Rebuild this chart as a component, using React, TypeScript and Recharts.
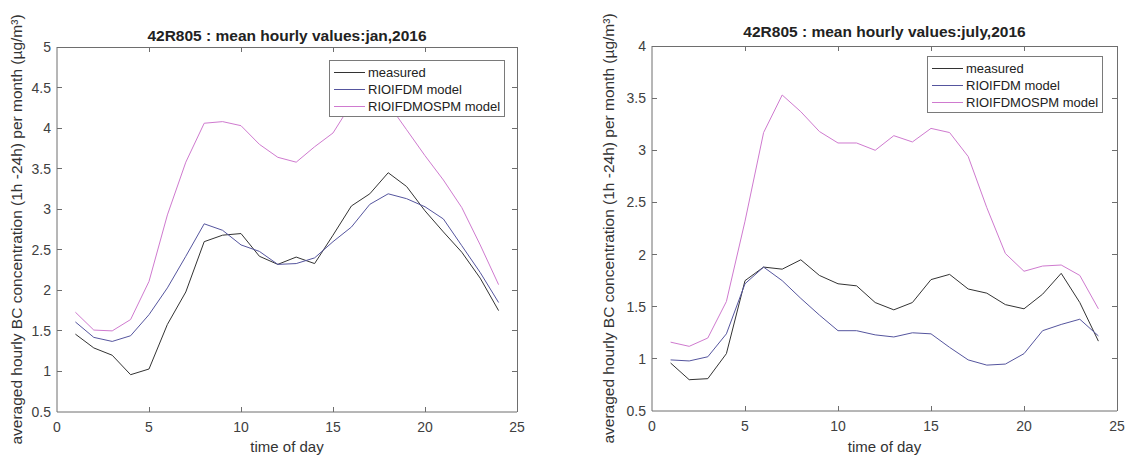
import { LineChart, Line, XAxis, YAxis, Legend, Label } from 'recharts';

// hour of day
const hours = [1, 2, 3, 4, 5, 6, 7, 8, 9, 10, 11, 12, 13, 14, 15, 16, 17, 18, 19, 20, 21, 22, 23, 24];

// january 2016
const janMeasured = [1.46, 1.29, 1.2, 0.96, 1.03, 1.58, 1.98, 2.6, 2.68, 2.7, 2.42, 2.32, 2.41, 2.33, 2.68, 3.04, 3.19, 3.45, 3.28, 2.98, 2.72, 2.47, 2.15, 1.75];
const janRioifdm = [1.61, 1.42, 1.37, 1.44, 1.7, 2.03, 2.42, 2.82, 2.74, 2.56, 2.48, 2.32, 2.33, 2.4, 2.6, 2.78, 3.06, 3.19, 3.13, 3.03, 2.88, 2.55, 2.22, 1.85];
const janOspm = [1.73, 1.51, 1.5, 1.64, 2.11, 2.93, 3.58, 4.06, 4.08, 4.03, 3.8, 3.64, 3.58, 3.77, 3.94, 4.3, 4.45, 4.3, 3.98, 3.66, 3.36, 3.02, 2.56, 2.07];

// july 2016
const julMeasured = [0.96, 0.8, 0.81, 1.05, 1.75, 1.88, 1.86, 1.95, 1.8, 1.72, 1.7, 1.54, 1.47, 1.54, 1.76, 1.81, 1.67, 1.63, 1.52, 1.48, 1.62, 1.82, 1.54, 1.17];
const julRioifdm = [0.99, 0.98, 1.02, 1.24, 1.72, 1.88, 1.75, 1.58, 1.42, 1.27, 1.27, 1.23, 1.21, 1.25, 1.24, 1.11, 0.99, 0.94, 0.95, 1.05, 1.27, 1.33, 1.38, 1.22];
const julOspm = [1.16, 1.12, 1.2, 1.55, 2.32, 3.17, 3.53, 3.37, 3.18, 3.07, 3.07, 3.0, 3.14, 3.08, 3.21, 3.17, 2.94, 2.45, 2.01, 1.84, 1.89, 1.9, 1.8, 1.48];

const xTicks = [0, 5, 10, 15, 20, 25];
const janYTicks = [0.5, 1, 1.5, 2, 2.5, 3, 3.5, 4, 4.5, 5];
const julYTicks = [0.5, 1, 1.5, 2, 2.5, 3, 3.5, 4];

const seriesNames = ['measured', 'RIOIFDM model', 'RIOIFDMOSPM model'];

const COLORS = {
  measured: '#333333',
  rioifdm: '#55559e',
  ospm: '#cf7acf',
};

const AXIS = '#6e6e6e';
const FONT = '"Liberation Sans", Arial, Helvetica, sans-serif';
const Y_LABEL = 'averaged hourly BC concentration (1h -24h) per month (µg/m³)';
const TICK_LEN = 5;

const janData = hours.map((h, i) => ({
  hour: h,
  measured: janMeasured[i],
  rioifdm: janRioifdm[i],
  ospm: janOspm[i],
}));

const julData = hours.map((h, i) => ({
  hour: h,
  measured: julMeasured[i],
  rioifdm: julRioifdm[i],
  ospm: julOspm[i],
}));

/* tick labels only, the marks are drawn by the box overlay */
function BottomTick(props: any) {
  const { x, y, payload } = props;
  return (
    <text x={x} y={y + 20} textAnchor="middle" fontSize={14} fill="#404040" fontFamily={FONT}>
      {payload.value}
    </text>
  );
}

function LeftTick(props: any) {
  const { x, y, payload } = props;
  return (
    <text x={x - 6} y={y + 5} textAnchor="end" fontSize={14} fill="#404040" fontFamily={FONT}>
      {payload.value}
    </text>
  );
}

function LegendBox({ payload, width, height }: any) {
  // keep the plotting order of the original figure
  const items = [...(payload || [])].sort(
    (a: any, b: any) => seriesNames.indexOf(a.value) - seriesNames.indexOf(b.value)
  );
  return (
    <div
      style={{
        width,
        height,
        boxSizing: 'border-box',
        border: '1px solid #7a7a7a',
        background: '#fff',
        paddingTop: 3,
        fontFamily: FONT,
      }}
    >
      {items.map((item: any, i: number) => (
        <div key={i} style={{ display: 'flex', alignItems: 'center', height: 17 }}>
          <span
            style={{
              display: 'inline-block',
              width: 31,
              borderTop: `1px solid ${item.color}`,
              marginLeft: 4,
              marginRight: 3,
            }}
          />
          <span style={{ fontSize: 13, color: '#222', whiteSpace: 'nowrap' }}>{item.value}</span>
        </div>
      ))}
    </div>
  );
}

/* MATLAB style axes box: top / right edges and inward ticks on all sides */
function AxesBox({ left, right, top, bottom, yMin, yMax, yTicks }: any) {
  const w = right - left;
  const h = bottom - top;
  const marks: any[] = [];
  xTicks.slice(1, -1).forEach((t) => {
    const x = left + (t / 25) * w - 0.5;
    marks.push({ left: x, top: bottom - TICK_LEN, width: 1, height: TICK_LEN });
    marks.push({ left: x, top: top, width: 1, height: TICK_LEN });
  });
  yTicks.slice(1, -1).forEach((v: number) => {
    const y = bottom - ((v - yMin) / (yMax - yMin)) * h - 0.5;
    marks.push({ left: left, top: y, width: TICK_LEN, height: 1 });
    marks.push({ left: right - TICK_LEN, top: y, width: TICK_LEN, height: 1 });
  });
  return (
    <div style={{ position: 'absolute', left: 0, top: 0, pointerEvents: 'none' }}>
      <div
        style={{
          position: 'absolute',
          left,
          top: top - 0.5,
          width: w + 0.5,
          height: h + 0.5,
          boxSizing: 'border-box',
          borderTop: `1px solid ${AXIS}`,
          borderRight: `1px solid ${AXIS}`,
        }}
      />
      {marks.map((m, i) => (
        <div key={i} style={{ position: 'absolute', background: AXIS, ...m }} />
      ))}
    </div>
  );
}

interface PanelProps {
  data: any[];
  title: string;
  yMin: number;
  yMax: number;
  yTicks: number[];
  width: number;
  yAxisWidth: number;
  marginTop: number;
  marginRight: number;
  xAxisHeight: number;
  titleY: number;
  yLabelX: number;
  legendLeft: number;
  legendTop: number;
}

function Panel(p: PanelProps) {
  const plotLeft = p.yAxisWidth;
  const plotRight = p.width - p.marginRight;
  const plotTop = p.marginTop;
  const plotBottom = 458 - p.xAxisHeight;
  const cx = (plotLeft + plotRight) / 2;
  const cy = (plotTop + plotBottom) / 2;

  return (
    <>
      <LineChart
        width={p.width}
        height={458}
        data={p.data}
        margin={{ top: p.marginTop, right: p.marginRight, bottom: 0, left: 0 }}
      >
        <XAxis
          dataKey="hour"
          type="number"
          domain={[0, 25]}
          ticks={xTicks}
          height={p.xAxisHeight}
          tickSize={0}
          tickMargin={0}
          tickLine={false}
          axisLine={{ stroke: AXIS }}
          tick={<BottomTick />}
          interval={0}
        >
          <Label
            content={() => (
              <text x={cx} y={452} textAnchor="middle" fontSize={15} fill="#333" fontFamily={FONT}>
                time of day
              </text>
            )}
          />
        </XAxis>
        <YAxis
          type="number"
          domain={[p.yMin, p.yMax]}
          ticks={p.yTicks}
          width={p.yAxisWidth}
          tickSize={0}
          tickMargin={0}
          tickLine={false}
          axisLine={{ stroke: AXIS }}
          tick={<LeftTick />}
          interval={0}
          allowDataOverflow
        >
          <Label
            content={() => (
              <g>
                <text
                  x={p.yLabelX}
                  y={cy}
                  textAnchor="middle"
                  fontSize={15.5}
                  fill="#333"
                  fontFamily={FONT}
                  transform={`rotate(-90, ${p.yLabelX}, ${cy})`}
                >
                  {Y_LABEL}
                </text>
                <text
                  x={cx}
                  y={p.titleY}
                  textAnchor="middle"
                  fontSize={15.5}
                  fontWeight="bold"
                  fill="#222"
                  fontFamily={FONT}
                >
                  {p.title}
                </text>
              </g>
            )}
          />
        </YAxis>
        <Legend
          layout="horizontal"
          verticalAlign="middle"
          align="center"
          wrapperStyle={{ left: p.legendLeft, top: p.legendTop, width: 176, height: 57 }}
          content={(props: any) => <LegendBox payload={props.payload} width={176} height={57} />}
        />
        <Line
          type="linear"
          dataKey="measured"
          name={seriesNames[0]}
          stroke={COLORS.measured}
          strokeWidth={1}
          dot={false}
          isAnimationActive={false}
        />
        <Line
          type="linear"
          dataKey="rioifdm"
          name={seriesNames[1]}
          stroke={COLORS.rioifdm}
          strokeWidth={1}
          dot={false}
          isAnimationActive={false}
        />
        <Line
          type="linear"
          dataKey="ospm"
          name={seriesNames[2]}
          stroke={COLORS.ospm}
          strokeWidth={1}
          dot={false}
          isAnimationActive={false}
        />
      </LineChart>
      <AxesBox
        left={plotLeft}
        right={plotRight}
        top={plotTop}
        bottom={plotBottom}
        yMin={p.yMin}
        yMax={p.yMax}
        yTicks={p.yTicks}
      />
    </>
  );
}

export default function App() {
  return (
    <div
      style={{
        position: 'absolute',
        left: 0,
        top: 0,
        width: 1127,
        height: 458,
        background: '#fff',
        fontFamily: FONT,
        overflow: 'hidden',
      }}
    >
      <div style={{ position: 'absolute', left: 0, top: 0 }}>
        <Panel
          data={janData}
          title="42R805 : mean hourly values:jan,2016"
          yMin={0.5}
          yMax={5}
          yTicks={janYTicks}
          width={540}
          yAxisWidth={57}
          marginTop={47}
          marginRight={23}
          xAxisHeight={46}
          titleY={41}
          yLabelX={22}
          legendLeft={329}
          legendTop={60}
        />
      </div>
      <div style={{ position: 'absolute', left: 590, top: 0 }}>
        <Panel
          data={julData}
          title="42R805 : mean hourly values:july,2016"
          yMin={0.5}
          yMax={4}
          yTicks={julYTicks}
          width={537}
          yAxisWidth={62}
          marginTop={46}
          marginRight={10}
          xAxisHeight={47}
          titleY={36.5}
          yLabelX={24}
          legendLeft={337}
          legendTop={56}
        />
      </div>
    </div>
  );
}
